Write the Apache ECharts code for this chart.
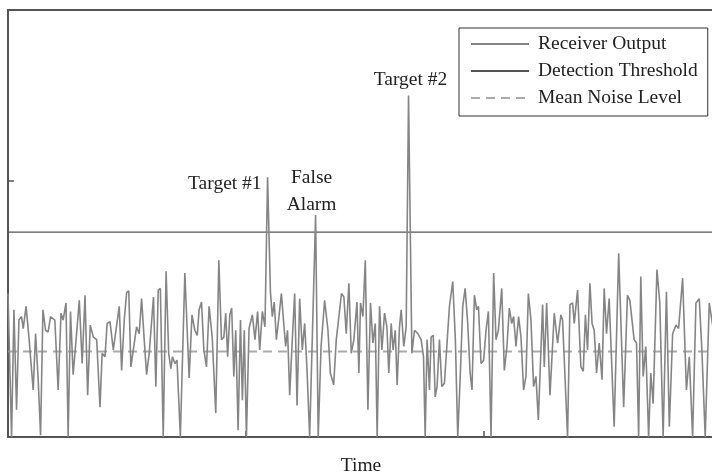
<!DOCTYPE html>
<html>
<head>
<meta charset="utf-8">
<script src="https://cdn.jsdelivr.net/npm/echarts@6/dist/echarts.min.js"></script>
<style>
  html, body { margin: 0; padding: 0; background: #fff; }
  #chart { width: 712px; height: 473px; }
</style>
</head>
<body>
<div id="chart"></div>
<script>
// time of each vertex of the receiver output trace
const timeValues = [
  0, 1.5, 2.5, 3.6, 4.6, 5.7, 6.4, 7.6, 8.8, 10.6, 11.6, 12.7, 13.7, 14.7, 15.8, 16.9, 17.9, 19.7, 21.1, 22.3,
  23.2, 24.4, 25.3, 26.3, 27.4, 28.4, 30.0, 31.2, 32.4, 33.5, 34.6, 35.9, 37.3, 38.7, 39.6, 40.8, 41.7, 42.9, 44.3, 46.8,
  47.8, 48.9, 49.9, 50.8, 51.7, 54.1, 55.2, 56.2, 57.3, 58.3, 59.4, 61.2, 62.2, 63.2, 64.1, 65.3, 66.5, 67.6, 68.5, 69.2,
  70.2, 71.1, 72.5, 74.4,
  76.2, 77.4, 78.6, 79.6, 80.4, 81.4, 82.4, 83.5, 84.6, 85.9, 87.4, 88.7, 89.8, 90.8, 91.6, 92.4, 93.3, 94.1, 95.0, 95.8,
  96.8, 97.8, 98.6, 99.4, 100.3, 101.4, 102.8, 103.9, 105.0, 105.9, 107.0, 108.1, 109.2, 110.4, 111.2, 112.0, 112.9, 114.0, 115.0, 116.0,
  116.8, 117.6, 118.5, 119.6, 120.6, 121.6, 122.7, 123.8, 124.8, 125.8, 126.9, 129.4, 130.5, 131.7, 133.2, 134.6, 135.6, 137.0, 138.1, 139.2,
  140.3, 141.3, 142.3, 143.4, 144.4, 145.5, 146.8, 147.6,
  148.3, 149.3, 150.3, 151.4, 152.5, 153.5, 154.5, 155.3, 156.3, 157.3, 158.4, 159.4, 160.2, 161.2, 162.0, 162.9, 163.7, 164.7, 165.4, 166.5,
  167.5, 168.5, 169.9, 171.0, 172.4, 173.8, 174.8, 175.5, 176.3, 177.3, 178.0, 178.9, 179.7, 180.5, 181.5, 182.5, 183.6, 184.7, 185.7, 187.1,
  188.2, 189.2, 190.3, 191.3, 192.3, 193.4, 194.4, 195.2, 196.2, 197.2, 197.9, 199.0, 200.1, 201.1, 202.1, 203.2, 204.3, 205.3, 206.3, 207.7,
  208.8, 209.9, 210.9, 211.9, 212.7, 213.7, 214.8, 215.8, 216.9, 217.9, 218.9, 220.0, 221.1,
  222.1, 223.1, 224.9, 225.6, 226.6, 228.0, 229.8, 231.2, 232.6, 233.3, 235.4, 236.4, 237.5, 238.2, 239.6, 241.0, 242.0, 242.9, 243.8, 244.8,
  245.7, 246.6, 247.6, 248.7, 249.9, 250.8, 251.8, 252.9, 255.0, 256.9, 259.0, 260.6, 261.6, 263.4, 264.4, 265.3, 266.2, 267.2, 268.3, 269.5,
  270.4, 271.4, 273.0, 274.2, 275.6, 277.0, 278.2, 279.6, 281.0, 282.1, 283.8, 285.4, 286.6, 288.0, 289.4, 290.8, 291.9, 293.3, 295.0, 297
];

const receiverOutput = [
  1.68, 0, 1.49, 0.32, 1.37, 1.41, 1.27, 1.53, 1.17, 0.55, 1.21, 0.67, 0.02, 1.49, 1.25, 1.23, 1.41, 1.37, 0.55, 1.45,
  1.37, 1.57, 0, 1.47, 0.73, 1.06, 1.60, 0.86, 1.66, 0.49, 1.31, 1.17, 1.14, 0.35, 0.98, 0.94, 1.33, 1.35, 1.02, 1.53,
  0.78, 1.37, 1.69, 1.71, 0.82, 1.29, 1.21, 1.62, 1.14, 0.73, 0.98, 1.64, 0.59, 1.72, 1.74, 0, 1.94, 0.98, 0.80, 0.94,
  0.86, 0.90, 0, 1.92,
  0.69, 1.43, 1.25, 1.19, 1.49, 1.58, 1.02, 0.82, 1.53, 1.17, 0.28, 2.07, 1.14, 1.17, 1.45, 0.94, 1.43, 1.51, 0.71, 1.25,
  0.08, 1.37, 0.43, 1.25, 0, 1.27, 1.43, 1.14, 1.47, 1.02, 1.47, 1.29, 3.04, 1.70, 1.41, 1.58, 1.14, 1.41, 1.68, 1.33,
  1.06, 1.25, 0.49, 1.14, 1.68, 0.37, 1.62, 1.02, 1.33, 0.78, 0, 2.60, 0, 1.06, 1.60, 1.25, 0.75, 0.61, 1.14, 1.41,
  1.68, 1.64, 1.21, 1.80, 0.98, 1.14, 1.58, 0.75,
  1.57, 1.41, 2.07, 0.32, 1.57, 1.10, 1.33, 0, 1.53, 1.02, 1.45, 1.29, 0.75, 1.33, 1.02, 1.25, 0.61, 1.29, 1.49, 1.06,
  1.29, 4.00, 0.98, 1.25, 1.21, 1.14, 0.94, 0, 1.14, 0.55, 1.17, 1.19, 0.47, 0.59, 1.14, 0.59, 0.63, 1.10, 1.53, 1.82,
  1.14, 0, 0.75, 1.53, 1.74, 1.33, 0.75, 0.55, 1.66, 1.49, 1.53, 0.86, 0.90, 1.25, 1.47, 0, 1.92, 1.14, 1.25, 1.74,
  0.78, 1.06, 1.51, 1.33, 1.41, 1.06, 1.41, 1.17, 0.55, 0.71, 1.68, 1.37, 0.59,
  0.71, 0.20, 1.55, 0.82, 1.57, 0.49, 1.45, 1.10, 1.43, 1.37, 0, 1.55, 1.57, 1.33, 1.72, 0.82, 0.77, 1.43, 1.02, 1.80,
  1.33, 1.25, 0.75, 1.10, 0.67, 1.74, 1.21, 1.62, 0.12, 2.15, 0.35, 1.66, 1.60, 1.14, 1.10, 0, 1.88, 0.71, 1.06, 0,
  0.75, 0.39, 1.96, 1.57, 0, 1.70, 0.12, 1.21, 1.31, 1.27, 1.86, 0.55, 0.94, 0, 1.57, 1.62, 1.02, 0, 1.57, 1.20
];

const detectionThreshold = 2.4;
const meanNoiseLevel = 1.0;
const timeRange = [0, 297];

// peaks that get a text label (times of the peaks)
const annotationNames = ['Target #1', 'False\nAlarm', 'Target #2'];
const annotationTimes = [109.2, 129.4, 168.5];

const serif = "'Liberation Serif', 'Times New Roman', serif";

const chart = echarts.init(document.getElementById('chart'));

const tracePoints = timeValues.map((t, i) => [t, receiverOutput[i]]);
const peakOf = (t) => [t, receiverOutput[timeValues.indexOf(t)]];

const labelStyles = [
  { position: 'left', distance: 6, offset: [0, 6] },
  { position: 'top', distance: -3, lineHeight: 27, offset: [-4, 0] },
  { position: 'top', distance: 6, offset: [2, 0] }
];

const option = {
  animation: false,
  backgroundColor: '#fff',
  grid: {
    left: 8, top: 10, right: -2, bottom: 36,
    outerBoundsMode: 'none',
    containLabel: false,
    show: true, borderColor: '#555', borderWidth: 2,
    backgroundColor: 'transparent'
  },
  legend: {
    orient: 'vertical',
    left: 459, top: 28,
    itemWidth: 58, itemHeight: 20, itemGap: 7,
    padding: [6, 10, 8, 11],
    borderColor: '#333', borderWidth: 1,
    backgroundColor: '#fff',
    selectedMode: false,
    itemStyle: { opacity: 0 },
    textStyle: { fontFamily: serif, fontSize: 19.5, color: '#222', padding: [0, 0, 0, 4] },
    data: ['Receiver Output', 'Detection Threshold', 'Mean Noise Level']
  },
  xAxis: {
    type: 'value',
    min: timeRange[0], max: timeRange[1], interval: 100,
    name: 'Time', nameLocation: 'middle', nameGap: 19,
    nameTextStyle: { fontFamily: serif, fontSize: 19.5, color: '#222' },
    axisLine: { show: false },
    axisTick: { show: true, inside: true, length: 6, lineStyle: { color: '#555', width: 1.5 } },
    axisLabel: { show: false },
    splitLine: { show: false }
  },
  yAxis: {
    type: 'value',
    min: 0, max: 5, interval: 3,
    axisLine: { show: false },
    axisTick: { show: true, inside: true, length: 6, lineStyle: { color: '#555', width: 1.5 } },
    axisLabel: { show: false },
    splitLine: { show: false }
  },
  series: [
    {
      name: 'Receiver Output',
      type: 'line',
      data: tracePoints,
      symbol: 'none',
      z: 3,
      lineStyle: { color: '#858585', width: 1.6 },
      itemStyle: { color: '#858585' },
      markPoint: {
        symbol: 'circle', symbolSize: 0, silent: true,
        label: { show: true, formatter: '{b}', fontFamily: serif, fontSize: 19.5, color: '#222' },
        data: annotationNames.map((name, i) => ({
          name: name,
          coord: peakOf(annotationTimes[i]),
          label: labelStyles[i]
        }))
      }
    },
    {
      name: 'Detection Threshold',
      type: 'line',
      data: [[timeRange[0], detectionThreshold], [timeRange[1], detectionThreshold]],
      symbol: 'none',
      z: 2,
      lineStyle: { color: '#555', width: 1.2 },
      itemStyle: { color: '#555' }
    },
    {
      name: 'Mean Noise Level',
      type: 'line',
      data: [[timeRange[0], meanNoiseLevel], [timeRange[1], meanNoiseLevel]],
      symbol: 'none',
      z: 1,
      lineStyle: { color: '#aaa', width: 2, type: [9, 6] },
      itemStyle: { color: '#aaa' }
    }
  ]
};

chart.setOption(option);
</script>
</body>
</html>
